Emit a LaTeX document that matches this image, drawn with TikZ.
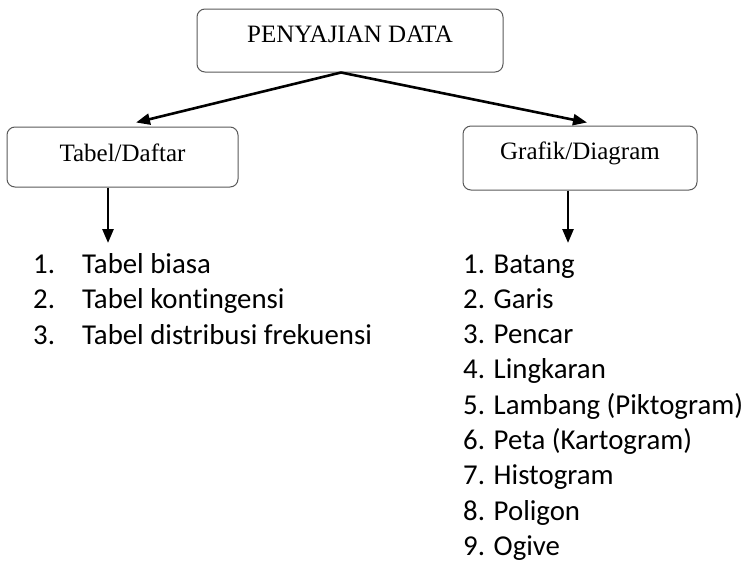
\documentclass[tikz,border=0pt]{standalone}
\usepackage{fontspec}
\setmainfont{Liberation Serif}
\newfontfamily\listfont[Ligatures=NoCommon]{Carlito}
\usetikzlibrary{arrows.meta}

\tikzset{
    box/.style={draw=black!65, line width=1pt, rounded corners=8pt, inner sep=0pt,
        anchor=base, font=\fontsize{25}{28}\selectfont},
    link/.style={line width=2.6pt, -{Triangle[length=14pt,width=11pt]}},
    item/.style={anchor=base west, inner sep=0pt, font=\listfont\fontsize{28.8}{35}\selectfont}
}

\begin{document}
\begin{tikzpicture}[x=1pt,y=-1pt]
    \useasboundingbox (0,0) rectangle (749,563);
    % Draw the three boxes
    \node[box, minimum width=306pt, text height=33pt, text depth=30pt] (data) at (350,42) {PENYAJIAN DATA};
    \node[box, minimum width=231pt, text height=34pt, text depth=26pt] (tabel) at (122.5,161) {Tabel/Daftar};
    \node[box, minimum width=234pt, text height=33pt, text depth=31pt] (grafik) at (580,159) {Grafik/Diagram};
    % Draw the arrows from the top box
    \draw[link] ([xshift=-9pt]data.south) -- ([xshift=13.5pt,yshift=4pt]tabel.north);
    \draw[link] ([xshift=-9pt]data.south) -- ([xshift=7pt,yshift=3pt]grafik.north);
    % Draw the arrows down to the lists
    \coordinate (tabelend) at (108,243);
    \coordinate (grafikend) at (568,243);
    \draw[link] (tabel.south -| tabelend) -- (tabelend);
    \draw[link] (grafik.south -| grafikend) -- (grafikend);
    % List of tables
    \foreach \i/\txt in {1/Tabel biasa, 2/Tabel kontingensi, 3/Tabel distribusi frekuensi}
        \node[item] (t\i) at (33,273+35.6*\i-35.6) {\makebox[49pt][l]{\i.}\txt};
    % List of diagrams
    \foreach \i/\txt in {1/Batang, 2/Garis, 3/Pencar, 4/Lingkaran, 5/Lambang (Piktogram),
        6/Peta (Kartogram), 7/Histogram, 8/Poligon, 9/Ogive}
        \node[item] (g\i) at (463,273+35.3*\i-35.3) {\i. \txt};
\end{tikzpicture}
\end{document}
